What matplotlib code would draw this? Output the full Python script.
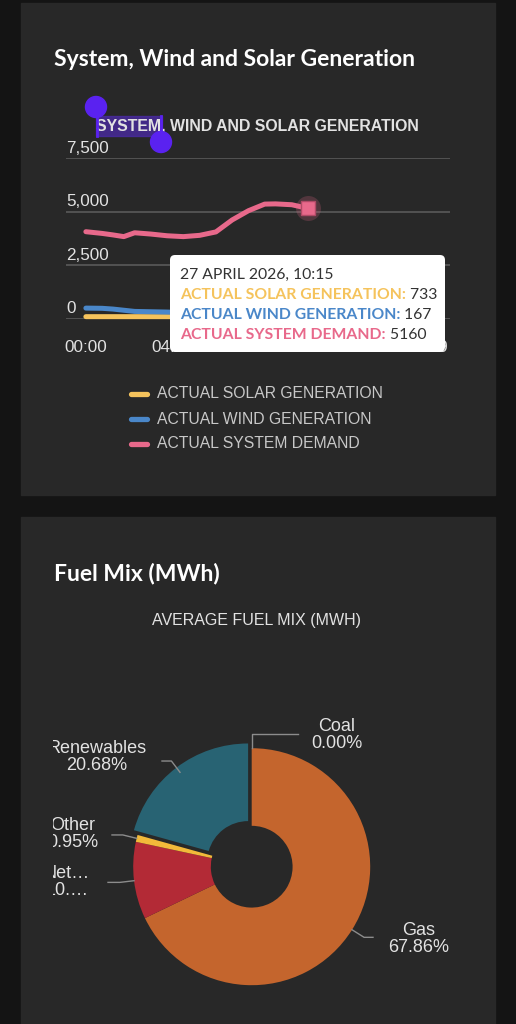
import matplotlib
matplotlib.use("Agg")
import matplotlib.pyplot as plt
from matplotlib.patches import FancyBboxPatch, Rectangle, Circle
from matplotlib.transforms import Bbox, TransformedBbox
import numpy as np

W, H = 516, 1024
OUTER = "#141414"
PANEL = "#282828"
TXT = "#e2e2e2"
GRID = "#5e5e5e"

# ------------------------------------------------------------------ data
series_names = ["ACTUAL SOLAR GENERATION", "ACTUAL WIND GENERATION", "ACTUAL SYSTEM DEMAND"]
series_colors = ["#f5c35c", "#4a87c9", "#e8698b"]
minutes = [0, 45, 75, 105, 135, 180, 225, 270, 315, 360, 405, 450, 495, 525, 570, 615]
solar = [100, 100, 100, 100, 100, 100, 100, 100, 100, 110, 160, 260, 400, 500, 620, 733]
wind = [500, 490, 455, 400, 345, 330, 315, 290, 260, 240, 220, 210, 200, 190, 180, 167]
demand = [4070, 3990, 3920, 3840, 4020, 3960, 3880, 3840, 3900, 4060, 4620, 5050, 5360, 5370, 5330, 5160]
y_ticks = [0, 2500, 5000, 7500]
x_ticks = [0, 240, 480, 720, 945]
x_ticklabels = ["00:00", "04:00", "08:00", "12:00", "15:49"]
tooltip_time = "27 APRIL 2026, 10:15"

fuel_names = ["Gas", "Net\u2026", "Other", "Renewables", "Coal"]
fuel_share = [67.86, 10.51, 0.95, 20.68, 0.00]
fuel_pct = ["67.86%", "10.\u2026", "0.95%", "20.68%", "0.00%"]
fuel_colors = ["#c4652d", "#b32a36", "#f2b93a", "#286373", "#3a3a3a"]
fuel_explode = [0, 0, 0, 0.05, 0]

# label layout (pixels): text centre, end of leader line
label_xy = [(419, 939), (67, 882), (73, 834), (97, 757), (337, 735)]
leader_end_x = [373, 108, 112, 162, 298]


def px_rect(x0, y0, x1, y1):
    return [x0 / W, 1 - y1 / H, (x1 - x0) / W, (y1 - y0) / H]


def px_axes(rect=(0, 0, W, H)):
    a = fig.add_axes(px_rect(*rect))
    a.set_xlim(0, W)
    a.set_ylim(H, 0)
    a.axis("off")
    a.patch.set_visible(False)
    return a


fig = plt.figure(figsize=(W / 100, H / 100), dpi=100)
fig.patch.set_facecolor(OUTER)

bg = px_axes()
bg.add_patch(Rectangle((21, 3), 474, 492, color=PANEL, zorder=0))
bg.add_patch(Rectangle((21, 517), 474, 520, color=PANEL, zorder=0))

title_font = dict(family="Lato", fontweight="bold", color="white", fontsize=16.5)
bg.text(54, 59, "System, Wind and Solar Generation", va="center", ha="left", **title_font)
bg.text(54, 573, "Fuel Mix (MWh)", va="center", ha="left", **title_font)

# ------------------------------------------------------------------ line chart
# text-selection artefact over the chart title
bg.add_patch(Rectangle((96, 116), 66, 20, color="#4b2aa8", alpha=0.75, zorder=1))
bg.plot([96.5, 96.5], [107, 136], color="#5a22f0", lw=2, zorder=3)
bg.plot([161, 161], [116, 142], color="#5a22f0", lw=2, zorder=3)
bg.add_patch(Circle((96, 107), 10.5, color="#5a22f0", zorder=3))
bg.add_patch(Circle((161, 142), 10.5, color="#5a22f0", zorder=3))
bg.text(257.5, 126, "SYSTEM, WIND AND SOLAR GENERATION", ha="center", va="center",
        family="Liberation Sans", fontweight="bold", fontsize=11.4, color=TXT, zorder=2)

ax = fig.add_axes(px_rect(66, 158.3, 450, 318.8))
ax.set_facecolor("none")
ax.set_xlim(-55, 1008)
ax.set_ylim(0, 7500)
for s in ax.spines.values():
    s.set_visible(False)
ax.set_yticks(y_ticks)
ax.set_yticklabels([])
ax.tick_params(axis="y", length=0)
ax.grid(axis="y", color=GRID, lw=1.1)
for v in y_ticks:
    ax.annotate(f"{v:,}", xy=(0, v), xycoords=ax.get_yaxis_transform(),
                xytext=(0, 2), textcoords="offset points", ha="left", va="bottom",
                family="Liberation Sans", fontsize=12.3, color=TXT, annotation_clip=False)
ax.set_xticks(x_ticks)
ax.set_xticklabels(x_ticklabels, family="Liberation Sans", fontsize=12.3, color=TXT)
ax.tick_params(axis="x", length=0, pad=15)

for vals, col in zip([solar, wind, demand], series_colors):
    ax.plot(minutes, vals, color=col, lw=3.6, solid_capstyle="round",
            solid_joinstyle="round", clip_on=False)
ax.plot(minutes[-1], demand[-1], "o", ms=18, color=series_colors[2], alpha=0.22,
        mec="none", clip_on=False)
ax.plot(minutes[-1], demand[-1], "s", ms=10, color=series_colors[2], mec="#b04a66",
        mew=1, clip_on=False)

# ------------------------------------------------------------------ donut
bg.text(257, 621, "AVERAGE FUEL MIX (MWH)", ha="center", va="center",
        family="Liberation Sans", fontsize=11.5, color=TXT)

cx, cy, R = 251.7, 866.7, 118.5
ax2 = fig.add_axes(px_rect(cx - 150, cy - 150, cx + 150, cy + 150))
wedges, _ = ax2.pie(fuel_share, colors=fuel_colors, startangle=90, counterclock=False,
                    explode=fuel_explode, radius=1,
                    wedgeprops=dict(width=0.655, edgecolor="none"))
ax2.set_xlim(-150 / R, 150 / R)
ax2.set_ylim(-150 / R, 150 / R)
ax2.axis("off")

# overlay (tooltip, legend, pie labels) drawn above the chart axes
fg = px_axes()

tip_box = FancyBboxPatch((170, 255), 275, 97, boxstyle="round,pad=0,rounding_size=5",
                         fc="white", ec="none")
fg.add_patch(tip_box)
tip = dict(family="Lato", fontsize=11.3, va="center")
fg.text(180, 275, tooltip_time, color="#333333", **tip)
for i, (name, col, val) in enumerate(zip(series_names, series_colors,
                                          [solar[-1], wind[-1], demand[-1]])):
    t = fg.text(180, 295 + 20 * i, name + ":", color=col, fontweight="bold", **tip)
    fg.annotate(f" {val}", xy=(1, 0.5), xycoords=t, color="#333333", ha="left", **tip)

for i, (name, col) in enumerate(zip(series_names, series_colors)):
    y = 394 + 25 * i
    fg.plot([131, 147], [y, y], color=col, lw=3.8, solid_capstyle="round")
    fg.text(157, y, name, va="center", ha="left", family="Liberation Sans",
            fontsize=11.35, color="#c8c8c8")

clip = TransformedBbox(Bbox([[53, 517], [495, 1030]]), fg.transData)
to_px = lambda p: fg.transData.inverted().transform(ax2.transData.transform(p))
for w, name, pct, (lx, ly), ex in zip(wedges, fuel_names, fuel_pct, label_xy, leader_end_x):
    mid = np.radians((w.theta1 + w.theta2) / 2)
    d = np.array([np.cos(mid), np.sin(mid)])
    a = to_px(d * 1.0)
    e = to_px(d * 1.12)
    fg.plot([a[0], e[0], ex], [a[1], e[1], e[1]], color="#8c8c8c", lw=1)
    t = fg.text(lx, ly, f"{name}\n{pct}", ha="center", va="center", linespacing=0.95,
                family="Liberation Sans", fontsize=13, color=TXT)
    t.set_clip_box(clip)
    t.set_clip_on(True)

fig.savefig("out.png", dpi=100, facecolor=OUTER)
